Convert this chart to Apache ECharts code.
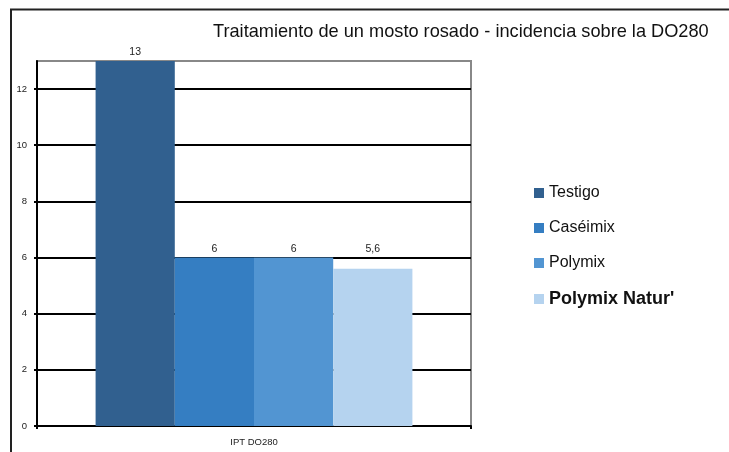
<!DOCTYPE html>
<html>
<head>
<meta charset="utf-8">
<script src="https://cdn.jsdelivr.net/npm/echarts@6/dist/echarts.min.js"></script>
<style>
  html, body { margin: 0; padding: 0; background: #fff; }
  #chart { width: 729px; height: 452px; }
</style>
</head>
<body>
<div id="chart"></div>
<script>
// datos
const categories = ["IPT DO280"];
const seriesNames = ["Testigo", "Caséimix", "Polymix", "Polymix Natur'"];
const seriesValues = [[13], [6], [6], [5.6]];
const yTicks = [0, 2, 4, 6, 8, 10, 12];
const colors = ["#31608f", "#357ec2", "#5295d2", "#b5d3ef"];

const chart = echarts.init(document.getElementById("chart"));
window.addEventListener("resize", () => chart.resize());

const font = "Liberation Sans, Arial, sans-serif";

chart.setOption({
  animation: false,
  textStyle: { fontFamily: font },
  title: {
    text: "Traitamiento de un mosto rosado - incidencia sobre la DO280",
    left: 213,
    top: 23,
    padding: 0,
    textStyle: { fontSize: 18.2, fontWeight: "normal", color: "#111", fontFamily: font },
  },
  legend: {
    orient: "vertical",
    left: 534,
    top: 185,
    padding: 0,
    icon: "rect",
    itemWidth: 10,
    itemHeight: 10,
    itemGap: 19,
    textStyle: { fontSize: 16, lineHeight: 16, color: "#111", padding: [0, 0, 0, 0] },
    data: seriesNames.map((n, i) =>
      i === 3 ? { name: n, textStyle: { fontWeight: "bold", fontSize: 18, lineHeight: 16 } } : { name: n }
    ),
  },
  grid: {
    left: 37,
    top: 61,
    right: 258,
    bottom: 26,
    show: true,
    borderColor: "#888",
    borderWidth: 2,
  },
  xAxis: {
    type: "category",
    data: categories,
    axisLine: { lineStyle: { color: "#000", width: 2 } },
    axisTick: { show: true, length: 3, lineStyle: { color: "#000", width: 2 } },
    axisLabel: { fontSize: 9.5, color: "#222", margin: 11 },
  },
  yAxis: {
    type: "value",
    min: 0,
    max: 13,
    interval: 1,
    axisLine: { show: true, lineStyle: { color: "#000", width: 2 } },
    axisTick: { show: true, length: 3, customValues: yTicks, lineStyle: { color: "#000", width: 2 } },
    axisLabel: { fontSize: 9.5, color: "#222", margin: 10, customValues: yTicks },
    splitLine: { show: true, lineStyle: { color: "#000", width: 2 } },
  },
  graphic: [
    { type: "line", shape: { x1: 10, y1: 9.5, x2: 729, y2: 9.5 }, style: { stroke: "#222", lineWidth: 2 }, silent: true },
    { type: "line", shape: { x1: 11, y1: 9, x2: 11, y2: 452 }, style: { stroke: "#222", lineWidth: 2 }, silent: true },
  ],
  series: seriesNames.map((name, i) => ({
    name: name,
    type: "bar",
    data: seriesValues[i],
    barGap: 0,
    barCategoryGap: "27%",
    itemStyle: { color: colors[i] },
    label: {
      show: true,
      position: "top",
      distance: i === 3 ? 14 : 3,
      fontSize: 10.5,
      color: "#222",
      formatter: (p) => String(p.value).replace(".", ","),
    },
  })),
});
</script>
</body>
</html>
